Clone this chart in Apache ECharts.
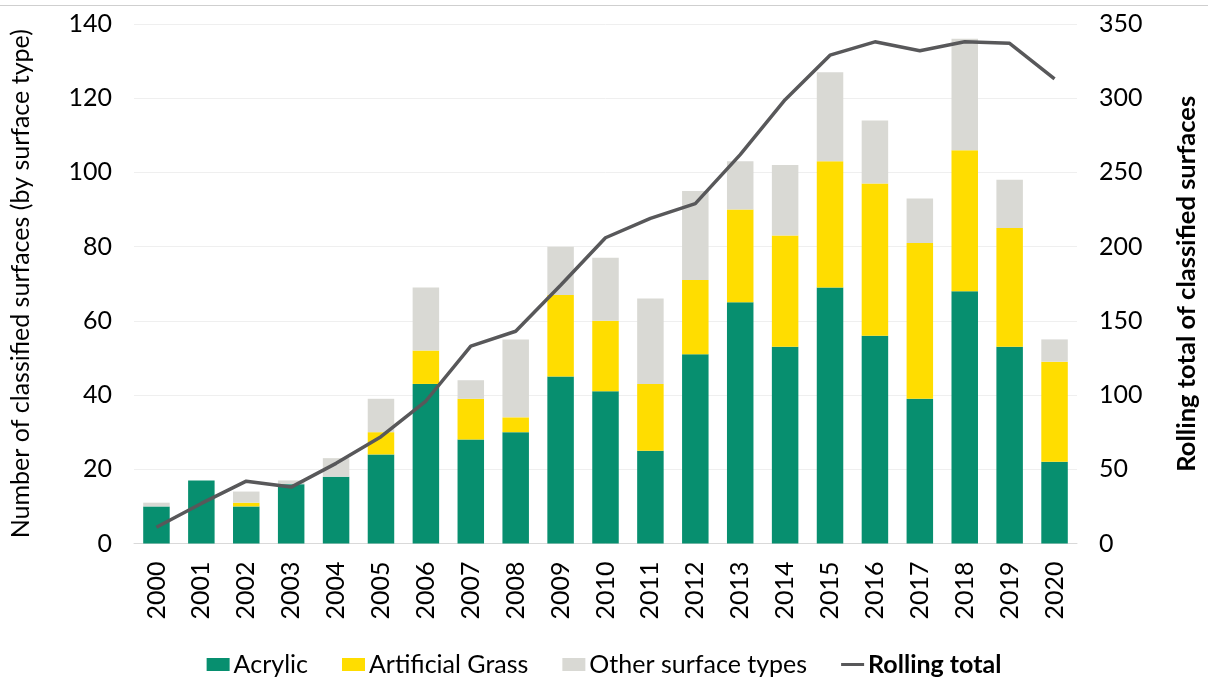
<!DOCTYPE html>
<html>
<head>
<meta charset="utf-8">
<script src="https://cdn.jsdelivr.net/npm/echarts@6/dist/echarts.min.js"></script>
<style>
html,body{margin:0;padding:0;background:#fff;}
#chart{width:1208px;height:682px;}
</style>
</head>
<body>
<div id="chart"></div>
<script>
const years = ['2000','2001','2002','2003','2004','2005','2006','2007','2008','2009','2010','2011','2012','2013','2014','2015','2016','2017','2018','2019','2020'];
const acrylic = [10,17,10,16,18,24,43,28,30,45,41,25,51,65,53,69,56,39,68,53,22];
const artificialGrass = [0,0,1,0,0,6,9,11,4,22,19,18,20,25,30,34,41,42,38,32,27];
const otherTypes = [1,0,3,1,5,9,17,5,21,13,17,23,24,13,19,24,17,12,30,13,6];
const rollingTotal = [11,27,42,38,54,72,96,133,143,174,206,219,229,262,299,329,338,332,338,337,313];
const leftTicks = {min:0, max:140, interval:20};
const rightTicks = {min:0, max:350, interval:50};

const FONT = 'Lato';
const chart = echarts.init(document.getElementById('chart'));
chart.setOption({
  animation:false,
  textStyle:{fontFamily:FONT},
  graphic:[{type:'line', shape:{x1:0,y1:5.5,x2:1208,y2:5.5}, style:{stroke:'#cfcfcf', lineWidth:1}}],
  grid:{left:132.5, right:130.5, top:24, bottom:138.5, containLabel:false},
  legend:{
    left:'center', top:647, itemGap:34, itemWidth:23, itemHeight:13,
    symbolKeepAspect:true,
    textStyle:{fontFamily:FONT, fontSize:25, color:'#000', padding:[0,0,0,-1]},
    data:[
      {name:'Acrylic', icon:'rect'},
      {name:'Artificial Grass', icon:'rect'},
      {name:'Other surface types', icon:'rect'},
      {name:'Rolling total', icon:'path://M0,0 H23 V3 H0 Z', textStyle:{fontWeight:'bold'}}
    ]
  },
  xAxis:{
    type:'category', data:years,
    axisLine:{lineStyle:{color:'#d9d9d9', width:1}},
    axisTick:{show:false},
    axisLabel:{rotate:90, margin:18, fontFamily:FONT, fontSize:25, color:'#000'}
  },
  yAxis:[
    {type:'value', min:leftTicks.min, max:leftTicks.max, interval:leftTicks.interval,
     name:'Number of classified surfaces (by surface type)', nameLocation:'middle', nameRotate:90, nameGap:91,
     nameTextStyle:{fontFamily:FONT, fontSize:25, color:'#000', padding:[0,0,10,0]},
     axisLabel:{margin:22, fontFamily:FONT, fontSize:25, color:'#000'},
     splitLine:{lineStyle:{color:'#efefef', width:1}},
     axisLine:{show:false}, axisTick:{show:false}},
    {type:'value', min:rightTicks.min, max:rightTicks.max, interval:rightTicks.interval,
     name:'Rolling total of classified surfaces', nameLocation:'middle', nameRotate:90, nameGap:97,
     nameTextStyle:{fontFamily:FONT, fontSize:25.5, fontWeight:'bold', color:'#000'},
     axisLabel:{margin:22, fontFamily:FONT, fontSize:25, color:'#000'},
     splitLine:{show:false}, axisLine:{show:false}, axisTick:{show:false}}
  ],
  series:[
    {name:'Acrylic', type:'bar', stack:'s', data:acrylic, barCategoryGap:'41%', itemStyle:{color:'#078f6f'}},
    {name:'Artificial Grass', type:'bar', stack:'s', data:artificialGrass, itemStyle:{color:'#ffdd00'}},
    {name:'Other surface types', type:'bar', stack:'s', data:otherTypes, itemStyle:{color:'#d9d9d4'}},
    {name:'Rolling total', type:'line', yAxisIndex:1, data:rollingTotal, symbol:'none', lineStyle:{color:'#58585a', width:3.5}, itemStyle:{color:'#58585a'}}
  ]
});
</script>
</body>
</html>
